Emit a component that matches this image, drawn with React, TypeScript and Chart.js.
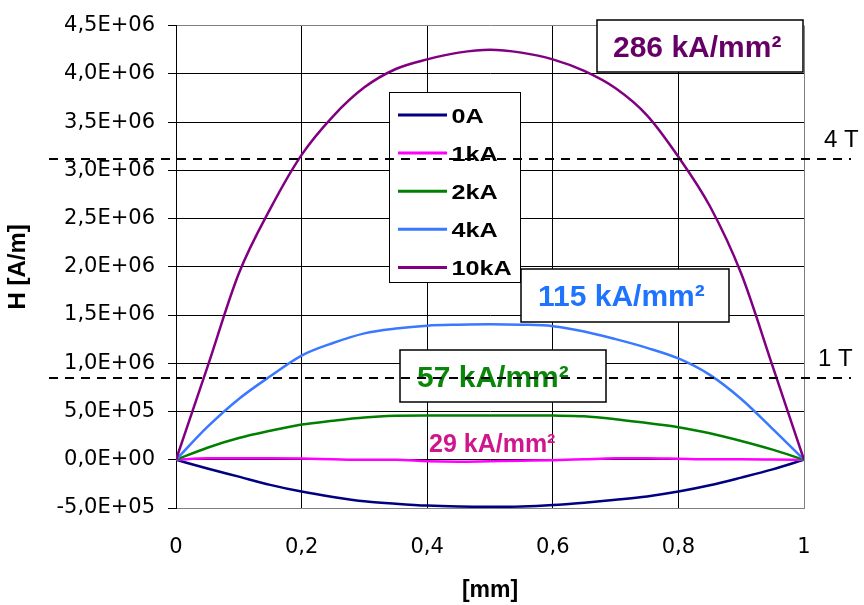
import React, { useEffect, useRef } from 'react';
import { Chart, registerables } from 'chart.js';

Chart.register(...registerables);

// ---- data -------------------------------------------------------------
const X_MM = [0, 0.05, 0.1, 0.15, 0.2, 0.25, 0.3, 0.35, 0.4, 0.45, 0.5, 0.55, 0.6, 0.65, 0.7, 0.75, 0.8, 0.85, 0.9, 0.95, 1];

const H_0A = [0, -9e4, -1.75e5, -2.6e5, -3.3e5, -3.85e5, -4.3e5, -4.55e5, -4.75e5, -4.85e5, -4.88e5, -4.85e5, -4.7e5, -4.45e5, -4.15e5, -3.8e5, -3.3e5, -2.65e5, -1.85e5, -1.0e5, 0];
const H_1KA = [0, 1.5e4, 1.5e4, 1.5e4, 1.2e4, 5e3, 0, 0, -1.5e4, -2e4, -1.5e4, -1e4, -5e3, 5e3, 1.5e4, 1.5e4, 1e4, 5e3, 5e3, 3e3, 0];
const H_2KA = [0, 1.25e5, 2.25e5, 3.0e5, 3.65e5, 4.05e5, 4.38e5, 4.55e5, 4.6e5, 4.6e5, 4.6e5, 4.6e5, 4.58e5, 4.5e5, 4.2e5, 3.8e5, 3.38e5, 2.75e5, 1.95e5, 1.05e5, 0];
const H_4KA = [0, 3.4e5, 6.3e5, 8.65e5, 1.08e6, 1.21e6, 1.31e6, 1.36e6, 1.39e6, 1.4e6, 1.405e6, 1.4e6, 1.385e6, 1.33e6, 1.25e6, 1.16e6, 1.05e6, 8.8e5, 6.3e5, 3.2e5, 0];
const H_10KA = [0, 9.6e5, 1.93e6, 2.6e6, 3.16e6, 3.56e6, 3.86e6, 4.05e6, 4.15e6, 4.22e6, 4.25e6, 4.22e6, 4.15e6, 4.03e6, 3.85e6, 3.57e6, 3.14e6, 2.63e6, 1.93e6, 9.7e5, 0];

const SERIES_LABELS = ['0A', '1kA', '2kA', '4kA', '10kA'];
const SERIES_VALUES = [H_0A, H_1KA, H_2KA, H_4KA, H_10KA];
const SERIES_COLORS = ['#000080', '#FF00FF', '#008000', '#3A78FF', '#800080'];

const NOTE_TEXTS = ['286 kA/mm²', '115 kA/mm²', '57 kA/mm²', '29 kA/mm²'];
const NOTE_COLORS = ['#660066', '#1E74FF', '#0A870A', '#D0168C'];

const REF_FIELD_VALUES = [3.12e6, 8.46e5];
const REF_FIELD_LABELS = ['4 T', '1 T'];

const X_TITLE = '[mm]';
const Y_TITLE = 'H [A/m]';

// ---- helpers ----------------------------------------------------------
function fmtX(v: number): string {
  const r = Math.round(v * 10) / 10;
  return String(r).replace('.', ',');
}

function fmtSci(v: number): string {
  if (Math.abs(v) < 1e-9) return '0,0E+00';
  const exp = Math.floor(Math.log10(Math.abs(v)) + 1e-12);
  const mant = v / Math.pow(10, exp);
  const sign = exp < 0 ? '-' : '+';
  return mant.toFixed(1).replace('.', ',') + 'E' + sign + String(Math.abs(exp)).padStart(2, '0');
}

const overlayPlugin = {
  id: 'overlay',
  afterDraw(chart: any) {
    const ctx: CanvasRenderingContext2D = chart.ctx;
    const yScale = chart.scales.y;
    ctx.save();

    // legend
    const lx = 389.5, ly = 92.5, lw = 131, lh = 190;
    ctx.fillStyle = '#fff';
    ctx.fillRect(lx, ly, lw, lh);
    ctx.strokeStyle = '#000';
    ctx.lineWidth = 1;
    ctx.strokeRect(lx, ly, lw, lh);
    chart.data.datasets.forEach((ds: any, i: number) => {
      const cy = 115 + i * 38.1;
      ctx.beginPath();
      ctx.strokeStyle = ds.borderColor;
      ctx.lineWidth = 3;
      ctx.moveTo(398, cy);
      ctx.lineTo(447, cy);
      ctx.stroke();
      ctx.save();
      ctx.translate(451.5, cy + 7.5);
      ctx.scale(1.2, 1);
      ctx.fillStyle = '#000';
      ctx.font = 'bold 21px "Liberation Sans", Arial, sans-serif';
      ctx.textBaseline = 'alphabetic';
      ctx.textAlign = 'left';
      ctx.fillText(ds.label, 0, 0);
      ctx.restore();
    });

    // annotation boxes
    const boxes = [
      { r: [597, 20, 803, 72], tx: 613, ty: 57, size: 30, box: true },
      { r: [521, 269, 729, 322], tx: 538, ty: 306, size: 30, box: true },
      { r: [400, 350, 606, 402], tx: 417, ty: 387, size: 30, box: true },
      { r: [0, 0, 0, 0], tx: 429, ty: 452, size: 25, box: false },
    ];
    boxes.forEach((b, i) => {
      if (b.box) {
        const [x1, y1, x2, y2] = b.r;
        ctx.fillStyle = '#fff';
        ctx.fillRect(x1, y1, x2 - x1, y2 - y1);
        ctx.strokeStyle = '#000';
        ctx.lineWidth = 1.5;
        ctx.strokeRect(x1, y1, x2 - x1, y2 - y1);
      }
      ctx.fillStyle = NOTE_COLORS[i];
      ctx.font = `bold ${b.size}px "Liberation Sans", Arial, sans-serif`;
      ctx.textBaseline = 'alphabetic';
      ctx.textAlign = 'left';
      ctx.fillText(NOTE_TEXTS[i], b.tx, b.ty);
    });

    // reference field lines
    const labelX = [824, 818];
    REF_FIELD_VALUES.forEach((v, i) => {
      const y = Math.round(yScale.getPixelForValue(v));
      ctx.beginPath();
      ctx.setLineDash([9, 7]);
      ctx.strokeStyle = '#000';
      ctx.lineWidth = 2;
      ctx.moveTo(49, y);
      ctx.lineTo(851, y);
      ctx.stroke();
      ctx.setLineDash([]);
      ctx.fillStyle = '#000';
      ctx.font = '24px "Liberation Sans", Arial, sans-serif';
      ctx.textBaseline = 'alphabetic';
      ctx.fillText(REF_FIELD_LABELS[i], labelX[i], y - 12);
    });

    ctx.restore();
  },
};

export default function App() {
  const canvasRef = useRef<HTMLCanvasElement | null>(null);

  useEffect(() => {
    const canvas = canvasRef.current;
    if (!canvas) return;
    const datasets = SERIES_LABELS.map((label, i) => ({
      label,
      data: X_MM.map((x, j) => ({ x, y: SERIES_VALUES[i][j] })),
      borderColor: SERIES_COLORS[i],
      backgroundColor: SERIES_COLORS[i],
      borderWidth: 2.5,
      pointRadius: 0,
      fill: false,
      cubicInterpolationMode: 'monotone' as const,
      order: SERIES_LABELS.length - i,
    }));

    const chart = new Chart(canvas, {
      type: 'line',
      data: { datasets },
      options: {
        responsive: false,
        devicePixelRatio: 1,
        animation: false,
        layout: { padding: { top: 19, right: 60, left: 0, bottom: 0 } },
        plugins: {
          legend: { display: false },
          tooltip: { enabled: false },
        },
        scales: {
          x: {
            type: 'linear',
            min: 0,
            max: 1,
            ticks: {
              stepSize: 0.2,
              callback: (v: any) => fmtX(Number(v)),
              font: { family: 'DejaVu Sans', size: 21 },
              color: '#000',
              padding: 27,
              maxRotation: 0,
              autoSkip: false,
            },
            grid: {
              color: (c: any) => (c.tick && Math.abs(c.tick.value - 1) < 1e-9 ? '#808080' : '#000'),
              lineWidth: 1,
              drawTicks: false,
            },
            border: { color: '#808080', width: 1 },
            title: {
              display: true,
              text: X_TITLE,
              color: '#000',
              font: { family: 'Liberation Sans', size: 23, weight: 'bold' },
              padding: { top: 0, bottom: 1 },
            },
            afterFit: (s: any) => {
              s.height = 97;
            },
          },
          y: {
            type: 'linear',
            min: -5e5,
            max: 4.5e6,
            ticks: {
              stepSize: 5e5,
              callback: (v: any) => fmtSci(Number(v)),
              font: { family: 'DejaVu Sans', size: 21 },
              color: '#000',
              padding: 13,
            },
            grid: {
              color: (c: any) =>
                c.tick && (Math.abs(c.tick.value - 4.5e6) < 1 || Math.abs(c.tick.value + 5e5) < 1) ? '#808080' : '#000',
              lineWidth: 1,
              drawTicks: true,
              tickLength: 8,
              tickColor: '#000',
            },
            border: { color: '#000', width: 1 },
            title: {
              display: true,
              text: Y_TITLE,
              color: '#000',
              font: { family: 'Liberation Sans', size: 24, weight: 'bold' },
              padding: { top: 4, bottom: 0 },
            },
            afterFit: (s: any) => {
              s.width = 176;
            },
          },
        },
      },
      plugins: [overlayPlugin],
    } as any);

    return () => {
      chart.destroy();
    };
  }, []);

  return (
    <div style={{ position: 'absolute', left: 0, top: 0, width: 864, height: 605, background: '#fff' }}>
      <canvas ref={canvasRef} width={864} height={605} style={{ display: 'block' }} />
    </div>
  );
}
